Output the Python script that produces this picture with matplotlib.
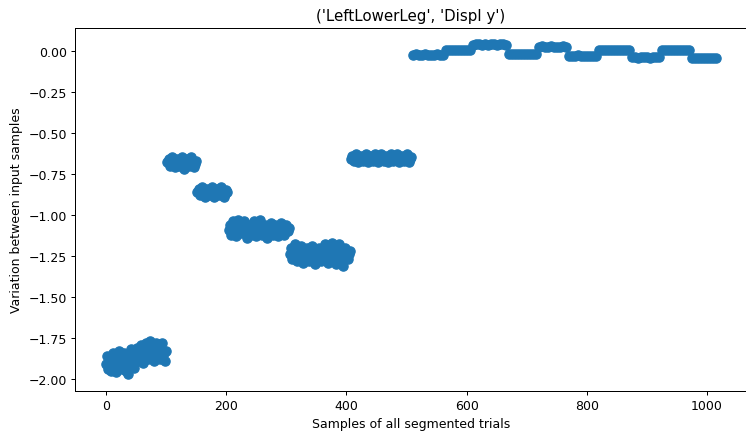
import numpy as np
import matplotlib
matplotlib.use('Agg')
import matplotlib.pyplot as plt

# sample index of the plotted points: every 2nd sample in the noisy part,
# every 5th sample in the flat part
samples = np.concatenate([np.arange(0, 510, 2), np.arange(510, 1020, 5)])

# variation values, one list per segment
seg_a = [-1.91, -1.86, -1.94, -1.89, -1.95, -1.88, -1.84, -1.90, -1.96, -1.91,
         -1.85, -1.83, -1.89, -1.94, -1.90, -1.84, -1.88, -1.95, -1.97, -1.91,
         -1.85, -1.82, -1.88, -1.93, -1.89]
seg_b = [-1.86, -1.81, -1.89, -1.84, -1.79, -1.85, -1.90, -1.83, -1.78, -1.82,
         -1.88, -1.84, -1.77, -1.81, -1.86, -1.89, -1.83, -1.78, -1.80, -1.85,
         -1.88, -1.82, -1.78, -1.84, -1.89, -1.83]
seg_c = [-0.68, -0.66, -0.70, -0.67, -0.65, -0.69, -0.71, -0.67, -0.66, -0.68,
         -0.70, -0.66, -0.65, -0.69, -0.72, -0.68, -0.66, -0.67, -0.70, -0.68,
         -0.65, -0.67, -0.71, -0.69, -0.67]
seg_d = [-0.86, -0.84, -0.88, -0.85, -0.83, -0.87, -0.89, -0.85, -0.84, -0.86,
         -0.88, -0.86, -0.83, -0.85, -0.89, -0.87, -0.84, -0.86, -0.88, -0.85,
         -0.83, -0.86, -0.89, -0.87, -0.85, -0.86]
seg_e = [-1.09, -1.06, -1.12, -1.08, -1.04, -1.10, -1.13, -1.07, -1.03, -1.08,
         -1.11, -1.09, -1.05, -1.04, -1.10, -1.14, -1.08, -1.06, -1.09, -1.12,
         -1.07, -1.04, -1.08, -1.13, -1.10, -1.06, -1.03, -1.09, -1.12, -1.08,
         -1.06, -1.10, -1.14, -1.09, -1.07, -1.05, -1.08, -1.12, -1.09, -1.06,
         -1.08, -1.13, -1.10, -1.07, -1.05, -1.09, -1.12, -1.08, -1.06, -1.10,
         -1.08]
seg_g = [-1.24, -1.20, -1.27, -1.22, -1.18, -1.23, -1.28, -1.25, -1.21, -1.19,
         -1.24, -1.29, -1.26, -1.22, -1.20, -1.25, -1.28, -1.23, -1.19, -1.21,
         -1.26, -1.30, -1.27, -1.23, -1.20, -1.24, -1.28, -1.25, -1.21, -1.18,
         -1.22, -1.27, -1.29, -1.24, -1.20, -1.17, -1.23, -1.28, -1.30, -1.26,
         -1.21, -1.18, -1.24, -1.29, -1.31, -1.25, -1.20, -1.22, -1.27, -1.24,
         -1.22]
seg_h = [-0.66, -0.64, -0.67, -0.65, -0.63, -0.66, -0.68, -0.65, -0.64, -0.66,
         -0.67, -0.65, -0.63, -0.65, -0.68, -0.66, -0.64, -0.65, -0.67, -0.66,
         -0.63, -0.65, -0.68, -0.66, -0.64, -0.63, -0.66, -0.67, -0.65, -0.64,
         -0.66, -0.68, -0.65, -0.63, -0.64, -0.67, -0.66, -0.65, -0.63, -0.66,
         -0.68, -0.66, -0.64, -0.65, -0.67, -0.65, -0.63, -0.66, -0.68, -0.66,
         -0.65]
top_1 = [-0.024, -0.022, -0.025, -0.023, -0.022, -0.024, -0.023, -0.025, -0.022, -0.024, -0.023]
top_2 = [0.004, 0.006, 0.005, 0.007, 0.004, 0.006, 0.005, 0.006, 0.004]
top_3 = [0.038, 0.040, 0.039, 0.037, 0.040, 0.038, 0.039, 0.041, 0.038, 0.039, 0.040, 0.038]
top_4 = [-0.018, -0.020, -0.019, -0.021, -0.018, -0.020, -0.019, -0.021, -0.020, -0.019]
top_5 = [0.025, 0.027, 0.026, 0.024, 0.027, 0.025, 0.026, 0.024, 0.027, 0.025]
top_6 = [-0.029, -0.031, -0.030, -0.028, -0.031, -0.029, -0.030, -0.031, -0.029, -0.030]
top_7 = [0.006, 0.005, 0.007, 0.006, 0.004, 0.006, 0.005, 0.007, 0.006, 0.005, 0.006]
top_8 = [-0.040, -0.038, -0.041, -0.039, -0.040, -0.038, -0.041, -0.039, -0.040, -0.039]
top_9 = [0.004, 0.006, 0.005, 0.004, 0.006, 0.005, 0.007, 0.005, 0.004, 0.006]
top_10 = [-0.043, -0.045, -0.044, -0.042, -0.045, -0.043, -0.044, -0.045, -0.043]

variation = np.concatenate([seg_a, seg_b, seg_c, seg_d, seg_e, seg_g, seg_h,
                            top_1, top_2, top_3, top_4, top_5,
                            top_6, top_7, top_8, top_9, top_10])

fig = plt.figure(figsize=(746 / 90, 437 / 90), dpi=90)
ax = fig.add_axes([0.1012, 0.1039, 0.8995, 0.8307])
ax.scatter(samples, variation, s=55)
ax.set_title("('LeftLowerLeg', 'Displ y')")
ax.set_xlabel('Samples of all segmented trials')
ax.set_ylabel('Variation between input samples')
fig.savefig('out.png', dpi=90)
